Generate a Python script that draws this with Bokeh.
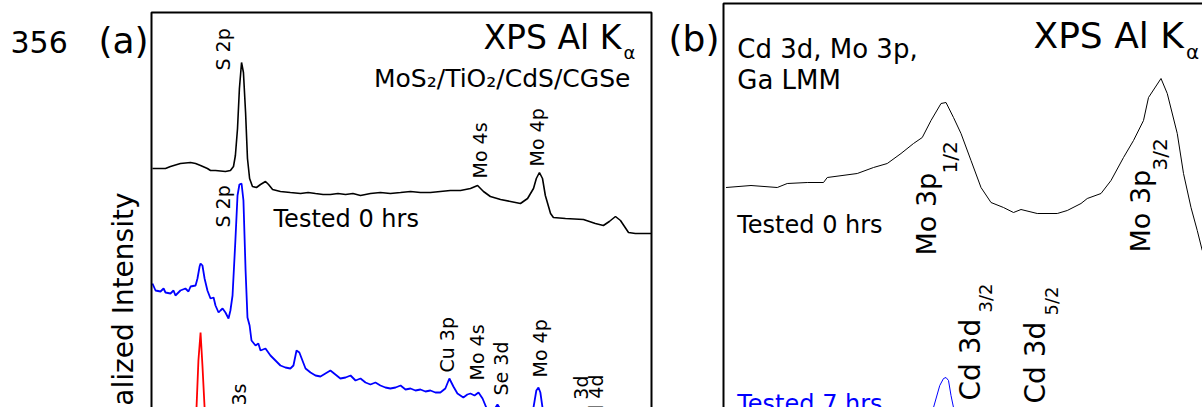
import math
from bokeh.plotting import figure
from bokeh.models import Range1d, BoxAnnotation
from bokeh.layouts import row
from bokeh.core.properties import value
from bokeh.embed import file_html
from bokeh.resources import INLINE

FONT = "DejaVu Sans"
H = 407
ROT = math.pi / 2

# ---------------- data: panel (a) survey, binding energy (eV) vs normalized intensity (offset)
black_a_be = [199.6, 194.1, 192.0, 187.8, 183.5, 181.4, 179.3, 176.4, 175.1, 173.0,
              168.8, 166.7, 165.4, 164.6, 163.7, 162.9, 162.0, 161.2, 160.3, 159.5,
              158.6, 157.4, 155.7, 154.0, 151.9, 150.6, 148.9, 145.6, 141.4, 137.1,
              133.9, 130.8, 127.6, 124.5, 121.3, 118.1, 115.0, 111.8, 107.6, 103.4,
              99.2, 94.9, 90.7, 86.5, 82.3, 78.1, 73.9, 69.6, 65.4,
              62.4, 59.9, 57.0, 52.7, 48.5, 44.3, 41.3, 38.8, 37.6, 36.3,
              35.0, 33.8, 31.6, 30.4, 25.3, 17.7, 12.7, 9.3, 6.8, 4.2,
              2.1, -1.3, -4.2, -8.4, -11.0]
black_a_int = [2.31, 2.31, 2.33, 2.36, 2.37, 2.36, 2.34, 2.31, 2.29, 2.29,
               2.28, 2.29, 2.33, 2.44, 2.71, 3.11, 3.37, 3.27, 2.87, 2.41,
               2.21, 2.13, 2.12, 2.15, 2.18, 2.15, 2.10, 2.08, 2.07, 2.06,
               2.07, 2.06, 2.05, 2.05, 2.06, 2.05, 2.06, 2.04, 2.06, 2.07,
               2.06, 2.07, 2.08, 2.07, 2.07, 2.08, 2.09, 2.09, 2.11,
               2.14, 2.08, 2.03, 2.00, 1.98, 1.96, 2.01, 2.11, 2.21, 2.27,
               2.21, 2.04, 1.86, 1.82, 1.81, 1.80, 1.76, 1.74, 1.78, 1.83,
               1.79, 1.67, 1.66, 1.66, 1.66]

blue_a_be = [199.6, 198.3, 196.2, 194.9, 194.1, 192.0, 190.7, 189.9, 187.8, 185.7,
             184.4, 183.5, 181.4, 180.6, 179.7, 179.3, 178.5, 177.6, 176.4, 175.1,
             173.8, 173.0, 171.7, 170.9, 170.0, 168.8, 167.5, 166.7, 165.8, 164.6,
             163.7, 162.9, 162.0, 161.2, 160.3, 159.5, 158.6, 157.8, 156.1, 154.9,
             154.0, 151.9, 149.8, 147.7, 145.6, 143.5, 141.4, 140.1, 138.8, 137.6,
             136.3, 135.0, 132.9, 130.8, 128.7, 126.6, 124.5, 122.4, 120.3, 118.1,
             116.0, 113.9, 111.8, 109.7, 107.6, 105.5, 103.4, 101.3, 99.2, 97.0,
             94.9, 92.8, 90.7, 88.6, 86.5, 84.4, 82.3, 80.2, 78.1, 76.0,
             74.3, 72.6, 70.9, 68.4, 66.7, 65.4, 63.7, 62.0, 60.3, 58.2,
             56.1, 54.0, 51.9, 46.4, 41.1, 38.8, 37.6, 36.7, 35.9, 35.0,
             32.5, 27.4, 10.5, -11.0]
blue_a_int = [1.16, 1.09, 1.08, 1.11, 1.07, 1.06, 1.09, 1.04, 1.09, 1.11,
              1.08, 1.13, 1.14, 1.21, 1.33, 1.36, 1.34, 1.21, 1.09, 1.01,
              1.02, 0.94, 0.87, 0.89, 0.91, 0.87, 0.81, 0.89, 1.04, 1.59,
              2.04, 2.15, 2.16, 1.99, 1.29, 0.82, 0.74, 0.59, 0.54, 0.56,
              0.49, 0.51, 0.44, 0.39, 0.34, 0.32, 0.31, 0.34, 0.49, 0.47,
              0.39, 0.31, 0.27, 0.24, 0.23, 0.26, 0.29, 0.25, 0.21, 0.22,
              0.24, 0.19, 0.21, 0.17, 0.15, 0.17, 0.14, 0.12, 0.11, 0.12,
              0.14, 0.10, 0.11, 0.09, 0.10, 0.08, 0.09, 0.07, 0.07, 0.11,
              0.21, 0.13, 0.06, 0.02, 0.05, 0.06, 0.04, 0.07, 0.01, -0.11,
              -0.13, -0.05, -0.13, -0.21, -0.19, -0.08, 0.09, 0.12, 0.07, -0.08,
              -0.26, -0.31, -0.36, -0.41]

red_a_be = [199.6, 187.8, 183.5, 181.0, 180.2, 179.3, 178.5, 177.6, 175.1, 160.0, 100.0, -11.0]
red_a_int = [-0.35, -0.33, -0.30, -0.08, 0.39, 0.67, 0.34, -0.08, -0.30, -0.38, -0.45, -0.50]

# ---------------- data: panel (b) Cd 3d / Mo 3p region
black_b_be = [429.8, 427.8, 425.7, 424.9, 423.3, 422.0, 421.7, 419.3, 418.0, 416.9,
              415.8, 414.8, 414.1, 413.4, 412.6, 412.2, 411.6, 411.0, 410.2, 409.4,
              408.6, 407.6, 406.8, 406.2, 404.9, 403.8, 403.3, 402.5, 401.4, 400.9,
              399.8, 399.0, 398.0, 397.2, 396.4, 396.0, 395.0, 394.5, 393.7, 393.2,
              392.6, 392.1, 391.7]
black_b_int = [2.12, 2.14, 2.12, 2.16, 2.17, 2.17, 2.22, 2.26, 2.32, 2.36,
               2.46, 2.56, 2.62, 2.79, 2.96, 2.97, 2.82, 2.66, 2.39, 2.12,
               1.97, 1.92, 1.87, 1.90, 1.86, 1.86, 1.86, 1.89, 1.96, 2.01,
               2.06, 2.19, 2.42, 2.59, 2.79, 3.02, 3.21, 3.06, 2.66, 2.26,
               1.92, 1.69, 1.49]

blue_b_be = [430.0, 414.5, 413.8, 413.2, 412.7, 412.4, 412.2, 412.0, 411.8, 411.6, 411.2, 410.0, 392.0]
blue_b_int = [-0.40, -0.35, -0.21, -0.08, 0.14, 0.21, 0.22, 0.19, 0.04, -0.08, -0.26, -0.40, -0.45]

# panel extents (eV / intensity) of the plotted boxes
a_be_lim = (200.0, -11.0)
a_int_top = 3.87
b_be_left = 430.0
b_int_top = 3.96


def make_fig(width, xr, yr, ppx, ppy):
    p = figure(width=width, height=H, x_range=xr, y_range=yr, x_axis_location=None,
               y_axis_location=None, toolbar_location=None, output_backend="svg",
               min_border=0)
    p.grid.visible = False
    p.outline_line_color = None
    p._ppx, p._ppy = ppx, ppy  # screen px per data unit (rightwards / upwards)
    return p


def lab(p, x, y, t, size, angle=0.0, align="left", color="black"):
    # the SVG backend draws the alphabetic baseline ~0.37 em below the anchor; compensate
    d = 0.37 * size
    if angle == 0.0:
        y = y + d / p._ppy
    else:
        x = x - d / p._ppx
    p.text(x=[x], y=[y], text=[t], angle=angle, text_font=value(FONT),
           text_font_size=value(f"{size}px"), text_align=align, text_baseline="alphabetic",
           text_color=color)


def box(p, left, right, top):
    p.add_layout(BoxAnnotation(left=left, right=right, top=top, bottom=-2.0,
                               fill_color=None, fill_alpha=0, line_color="black",
                               line_alpha=1.0, line_width=2))


# ---------------- left margin: line number, panel letter, y label
fl = make_fig(149, Range1d(0, 149), Range1d(407, 0), 1.0, -1.0)
lab(fl, 10, 53, "356", 30)
lab(fl, 98, 53, "(a)", 36)
lab(fl, 133, 192, "Normalized Intensity", 28, angle=ROT, align="right")

# ---------------- panel (a)
PPA = 500 / 211
fa = make_fig(504, Range1d(200 + 2 / PPA, -11 - 2 / PPA), Range1d(-0.08, 3.99), -PPA, 100.0)
box(fa, a_be_lim[0], a_be_lim[1], a_int_top)
fa.line(red_a_be, red_a_int, line_color="#ff0000", line_width=1.8)
fa.line(blue_a_be, blue_a_int, line_color="#0000ff", line_width=1.8)
fa.line(black_a_be, black_a_int, line_color="#000000", line_width=1.6)

lab(fa, 59.9, 3.50, "XPS Al K", 33)
lab(fa, 0.8, 3.40, "α", 18)
lab(fa, -2.1, 3.12, "MoS₂/TiO₂/CdS/CGSe", 25, align="right")
lab(fa, 148.5, 1.72, "Tested 0 hrs", 24)
for t, x, y, al in [("S 2p", 166.7, 3.29, "left"), ("Mo 4s", 58.6, 2.21, "left"),
                    ("Mo 4p", 34.2, 2.33, "left"), ("S 2p", 166.7, 1.72, "left"),
                    ("Cu 3p", 72.4, 0.27, "left"), ("Mo 4s", 59.5, 0.19, "left"),
                    ("Se 3d", 49.4, 0.04, "left"), ("Mo 4p", 32.9, 0.22, "left"),
                    ("Ga 3s", 160.3, 0.16, "right"), ("Ga 3d", 15.6, 0.24, "right"),
                    ("Cd 4d", 9.3, 0.25, "right")]:
    lab(fa, x, y, t, 19, angle=ROT, align=al)

# ---------------- gap with panel letter (b)
fg = make_fig(68, Range1d(653, 721), Range1d(407, 0), 1.0, -1.0)
lab(fg, 668, 51, "(b)", 36)

# ---------------- panel (b)
PPB = 12.5
fb = make_fig(481, Range1d(430 + 2 / PPB, 391.68), Range1d(-0.08, 3.99), -PPB, 100.0)
box(fb, b_be_left, 300.0, b_int_top)
fb.line(blue_b_be, blue_b_int, line_color="#0000ff", line_width=1.0)
fb.line(black_b_be, black_b_int, line_color="#000000", line_width=1.0)

lab(fb, 428.9, 3.41, "Cd 3d, Mo 3p,", 26)
lab(fb, 428.9, 3.10, "Ga LMM", 26)
lab(fb, 405.2, 3.51, "XPS Al K", 36)
lab(fb, 393.0, 3.40, "α", 20)
lab(fb, 428.9, 1.66, "Tested 0 hrs", 24)
lab(fb, 428.9, -0.135, "Tested 7 hrs", 24, color="#0000ff")
lab(fb, 412.96, 1.44, "Mo 3p", 27, angle=ROT)
lab(fb, 411.28, 2.26, "1/2", 20, angle=ROT)
lab(fb, 395.84, 1.47, "Mo 3p", 27, angle=ROT)
lab(fb, 394.48, 2.29, "3/2", 20, angle=ROT)
lab(fb, 409.44, -0.01, "Cd 3d", 28, angle=ROT)
lab(fb, 408.48, 0.87, "3/2", 18, angle=ROT)
lab(fb, 404.24, -0.04, "Cd 3d", 28, angle=ROT)
lab(fb, 403.2, 0.84, "5/2", 18, angle=ROT)

layout = row(fl, fa, fg, fb)
open("out.html", "w").write(file_html(layout, INLINE))
